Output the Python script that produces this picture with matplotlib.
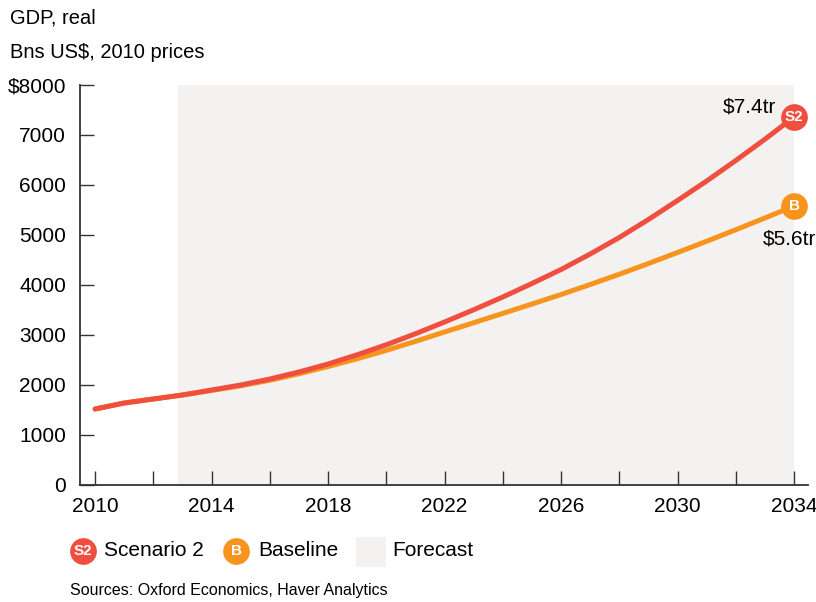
import matplotlib.pyplot as plt
from matplotlib.patches import Rectangle

plt.rcParams['font.family'] = ['Liberation Sans', 'DejaVu Sans']

# data (billions US$, 2010 prices)
years = list(range(2010, 2035))
scenario2 = [1510, 1630, 1710, 1790, 1890, 1990, 2110, 2250, 2410, 2595, 2795, 3015, 3250,
             3495, 3750, 4020, 4300, 4610, 4940, 5300, 5680, 6070, 6480, 6905, 7350]
baseline = [1510, 1630, 1710, 1790, 1880, 1975, 2085, 2215, 2360, 2515, 2683, 2863, 3050,
            3235, 3422, 3610, 3800, 4000, 4205, 4420, 4640, 4865, 5095, 5330, 5570]
forecast_start = 2012.85
end_labels = ['$7.4tr', '$5.6tr']

red = '#F04E3E'
orange = '#F7941D'
shade = '#F3F2F0'
dark = '#333333'

fig = plt.figure(figsize=(8.16, 6.02), dpi=100)
ax = fig.add_axes([80/816, 1 - 484.5/602, 728/816, 400/602])

ax.add_patch(Rectangle((forecast_start, 0), 2034 - forecast_start, 8000,
                       facecolor=shade, edgecolor='none', zorder=0))

ax.plot(years, baseline, color=orange, lw=3.6, solid_capstyle='round',
        solid_joinstyle='round', zorder=2)
ax.plot(years, scenario2, color=red, lw=3.6, solid_capstyle='round',
        solid_joinstyle='round', zorder=3)

ax.scatter([years[-1]], [scenario2[-1]], s=370, color=red, zorder=4, linewidths=0, clip_on=False)
ax.scatter([years[-1]], [baseline[-1]], s=370, color=orange, zorder=4, linewidths=0, clip_on=False)
ax.text(years[-1], scenario2[-1], 'S2', color='white', fontsize=11, fontweight='bold',
        ha='center', va='center', zorder=5)
ax.text(years[-1], baseline[-1], 'B', color='white', fontsize=11, fontweight='bold',
        ha='center', va='center', zorder=5)
ax.annotate(end_labels[0], (years[-1], scenario2[-1]), xytext=(-18, 10),
            textcoords='offset pixels', ha='right', va='center', fontsize=15,
            annotation_clip=False)
ax.annotate(end_labels[1], (years[-1], baseline[-1]), xytext=(-31, -33),
            textcoords='offset pixels', ha='left', va='center', fontsize=15,
            annotation_clip=False)

ax.set_xlim(2009.48, 2034.48)
ax.set_ylim(0, 8000)
ax.set_xticks(range(2010, 2035, 2))
ax.set_xticklabels([str(y) if (y - 2010) % 4 == 0 else '' for y in range(2010, 2035, 2)])
yt = list(range(0, 8001, 1000))
ax.set_yticks(yt)
ax.set_yticklabels([('$' + str(v)) if v == 8000 else str(v) for v in yt])
ax.tick_params(direction='in', length=10, width=1, color=dark, labelsize=15, labelcolor='black')
ax.tick_params(axis='x', pad=9)
ax.tick_params(axis='y', pad=10)
for lab in ax.get_yticklabels():
    lab.set_va('center_baseline')
for s in ['top', 'right']:
    ax.spines[s].set_visible(False)
for s in ['left', 'bottom']:
    ax.spines[s].set_color(dark)
    ax.spines[s].set_linewidth(1.3)

fig.text(10/816, 1 - 18/602, 'GDP, real', fontsize=14.5, va='center')
fig.text(10/816, 1 - 53/602, 'Bns US$, 2010 prices', fontsize=14.5, va='center')

# legend drawn on an overlay in pixel units
lg = fig.add_axes([0, 0, 1, 1])
lg.set_xlim(0, 816)
lg.set_ylim(602, 0)
lg.axis('off')
lg.scatter([83], [551], s=370, color=red, linewidths=0)
lg.text(83, 551, 'S2', color='white', fontsize=11, fontweight='bold', ha='center', va='center')
lg.text(104, 551, 'Scenario 2', fontsize=15, va='center')
lg.scatter([236], [551], s=370, color=orange, linewidths=0)
lg.text(236, 551, 'B', color='white', fontsize=11, fontweight='bold', ha='center', va='center')
lg.text(258, 551, 'Baseline', fontsize=15, va='center')
lg.add_patch(Rectangle((356, 537), 30, 30, facecolor=shade, edgecolor='none'))
lg.text(392, 551, 'Forecast', fontsize=15, va='center')
lg.text(70, 591, 'Sources: Oxford Economics, Haver Analytics', fontsize=11.5, va='center')

fig.savefig('out.png', dpi=100)
